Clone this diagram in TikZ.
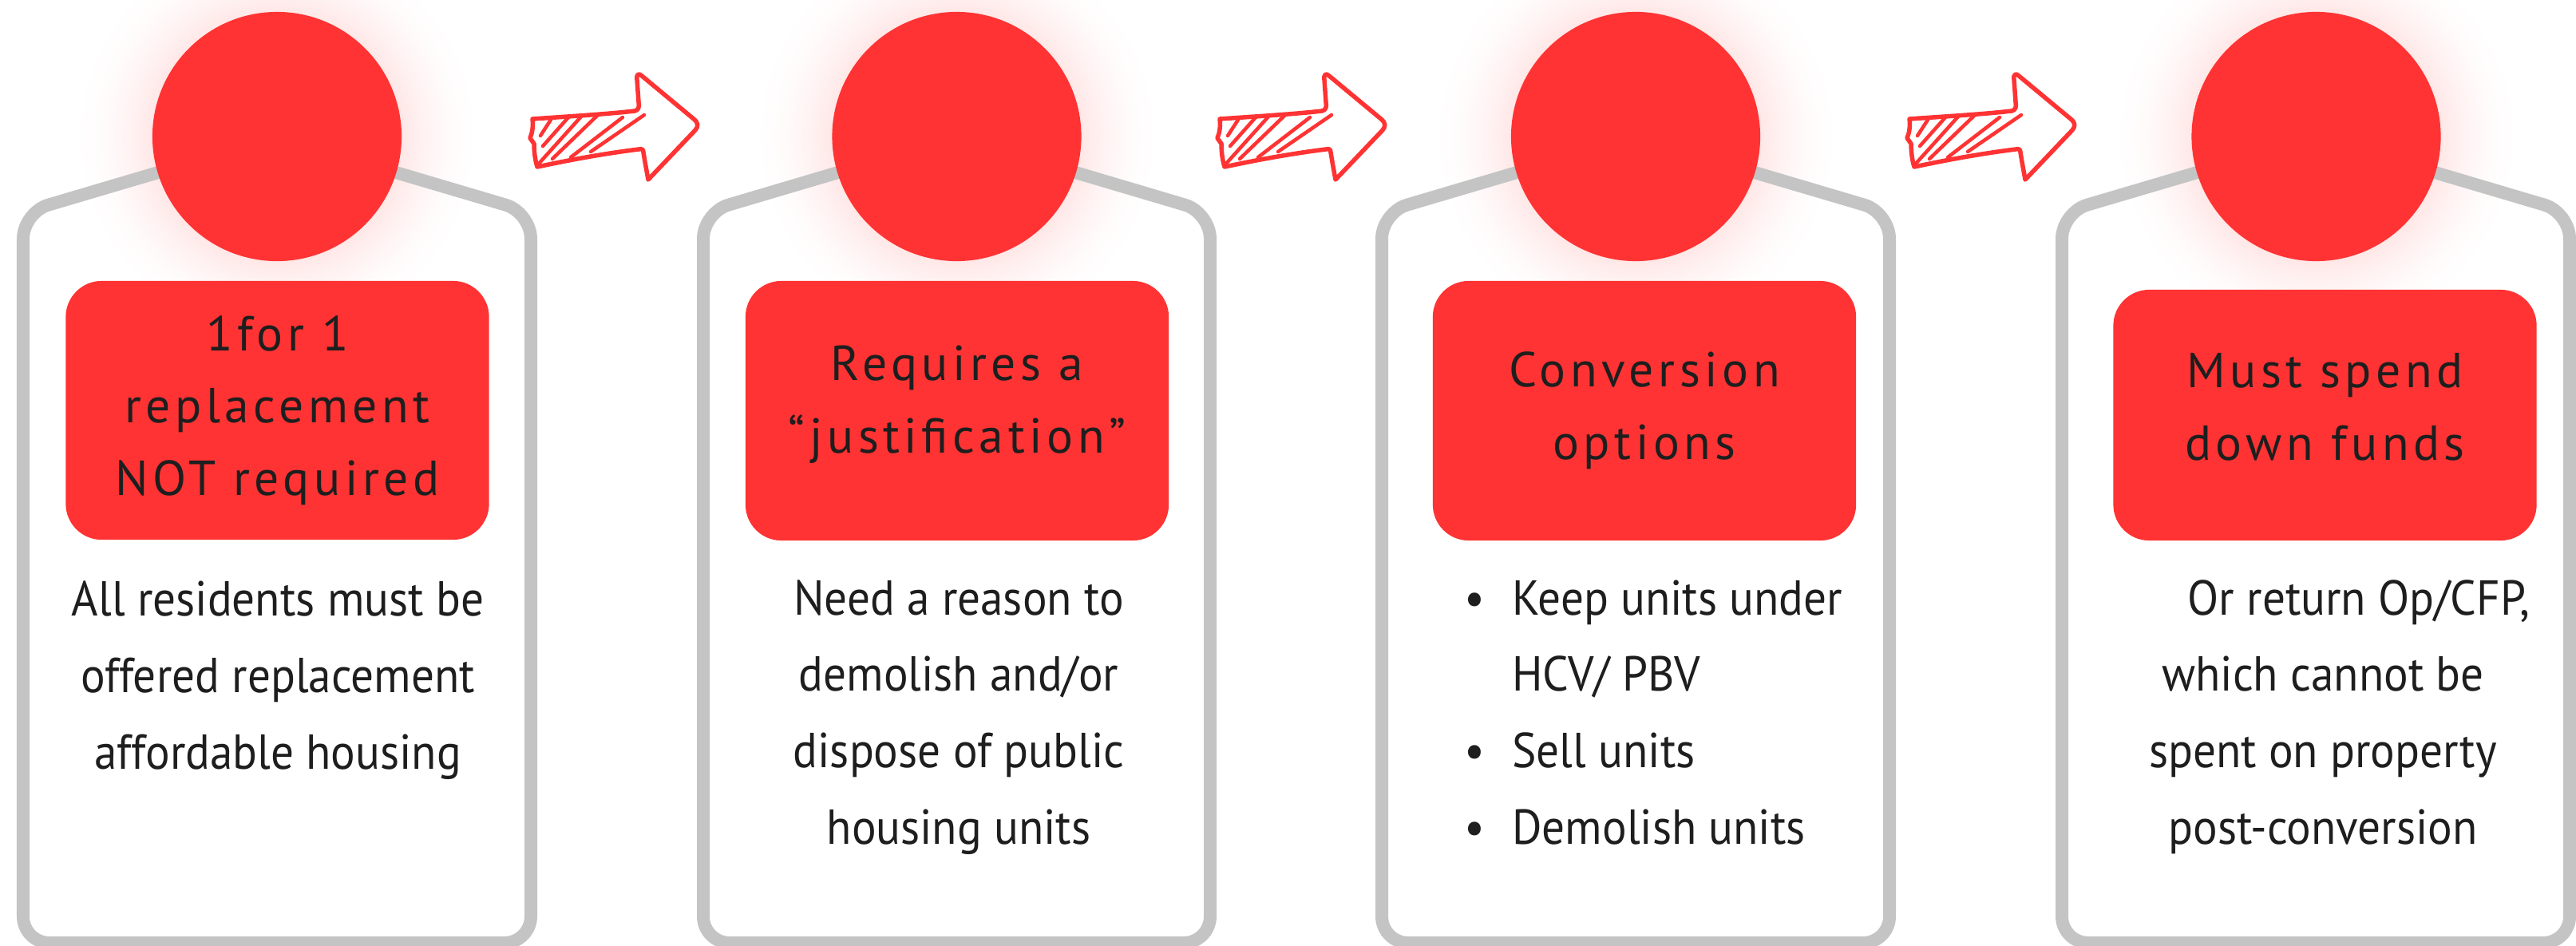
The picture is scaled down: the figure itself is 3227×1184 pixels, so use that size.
\documentclass[tikz,border=0pt]{standalone}
\usepackage{fontspec}
\setmainfont{PT Sans}
\newfontfamily\titlefont[LetterSpace=9]{PT Sans}
\newfontfamily\bodyfont[FakeStretch=0.93]{PT Sans}
\definecolor{brand}{HTML}{FF3333}
\definecolor{panelgray}{HTML}{C4C4C4}
\definecolor{ink}{HTML}{1E1E1E}
% soft halo: the path's bounding box spans -25bp..25bp
\pgfdeclareradialshading{haze}{\pgfpointorigin}{%
  color(0bp)=(brand!12); color(15.5bp)=(brand!12); color(18bp)=(brand!7);
  color(21.5bp)=(brand!2); color(25bp)=(white); color(50bp)=(white)}

% hand-drawn hatched arrow, shifted horizontally by #1
\newcommand\sketcharrow[1]{%
  \begin{scope}[shift={(#1,0)}]
    \draw[sketch] (667,149) .. controls (710,146) and (760,143) .. (795,139)
      .. controls (800,138) and (801,134) .. (800,128) -- (798,100)
      .. controls (797,93) and (800,91) .. (804,95) -- (869,149)
      .. controls (875,154) and (875,158) .. (871,163) -- (812,225)
      -- (808,203) -- (806,191) .. controls (806,187) and (804,186) .. (800,187)
      .. controls (760,192) and (720,199) .. (673,209)
      .. controls (670,200) and (669,188) .. (669,180) -- (664,173)
      .. controls (667,166) and (668,158) .. (667,149) -- cycle;
    \draw[hatch] (677,170) -- (690,150);
    \draw[hatch] (680,183) -- (712,147);
    \draw[hatch] (674,206) -- (728,146);
    \draw[hatch] (692,199) -- (750,143);
    \draw[hatch] (715,197) -- (780,147);
    \draw[hatch] (740,190) -- (807,144);
  \end{scope}}

\begin{document}
\begin{tikzpicture}[x=0.01cm, y=-0.01cm,
    outline/.style={draw=panelgray, line width=0.16cm, rounded corners=0.33cm},
    head/.style={circle, fill=brand, minimum size=3.12cm, inner sep=0pt},
    tag/.style={rectangle, fill=brand, rounded corners=0.45cm,
      minimum width=5.3cm, inner sep=0pt},
    tagtext/.style={text=ink, align=center,
      font=\titlefont\fontsize{17.5pt}{25.8pt}\selectfont},
    bodytext/.style={text=ink, align=center, anchor=base,
      font=\bodyfont\fontsize{17.5pt}{27.2pt}\selectfont},
    sketch/.style={draw=brand, line width=0.055cm, line join=round, line cap=round},
    hatch/.style={draw=brand, line width=0.045cm, line cap=round}]
  \useasboundingbox (0,0) rectangle (3227,1184);

  % panel frames with their heads
  \foreach \i/\L/\R/\C in {1/29/665/347, 2/881/1516/1198.5,
                           3/1731/2367/2049, 4/2583/3219/2901.5} {
    \shade[shading=haze] (\C,171) circle[radius=2.5cm];
    \draw[outline] (\L,1181) -- (\L,266) -- (\C,172) -- (\R,266) -- (\R,1181) -- cycle;
    \node[head] (head\i) at (\C,171) {};
  }

  % red title tags
  \node[tag, minimum height=3.24cm] (tag1) at (347.5,514) {};
  \node[tag, minimum height=3.25cm] (tag2) at (1199,514.5) {};
  \node[tag, minimum height=3.25cm] (tag3) at (2060,514.5) {};
  \node[tag, minimum height=3.14cm] (tag4) at (2912.5,520) {};

  \node[tagtext] (title1) at (tag1.center) {1for 1\\replacement\\NOT required};
  \node[tagtext, yshift=0.08cm] (title2) at (tag2.center) {Requires a\\“justification”};
  \node[tagtext] (title3) at (tag3.center) {Conversion\\options};
  \node[tagtext, yshift=0.1cm] (title4) at (tag4.center) {Must spend\\down funds};

  % descriptions (anchored on the baseline of their last line)
  \node[bodytext] (body1) at (348,963) {All residents must be\\offered replacement\\affordable housing};
  \node[bodytext] (body2) at (1201,1057) {Need a reason to\\demolish and/or\\dispose of public\\housing units};
  \node[bodytext, align=left, anchor=base west] (body3) at (1882,1057)
    {\llap{\textbullet\hspace{0.34cm}}Keep units under\\HCV/ PBV\\
     \llap{\textbullet\hspace{0.34cm}}Sell units\\\llap{\textbullet\hspace{0.34cm}}Demolish units};
  \node[bodytext] (body4) at (2910,1057) {\hspace*{0.9cm}Or return Op/CFP,\\which cannot be\\spent on property\\post-conversion};

  % arrows between the steps
  \sketcharrow{0}
  \sketcharrow{861}
  \sketcharrow{1725}
\end{tikzpicture}
\end{document}
